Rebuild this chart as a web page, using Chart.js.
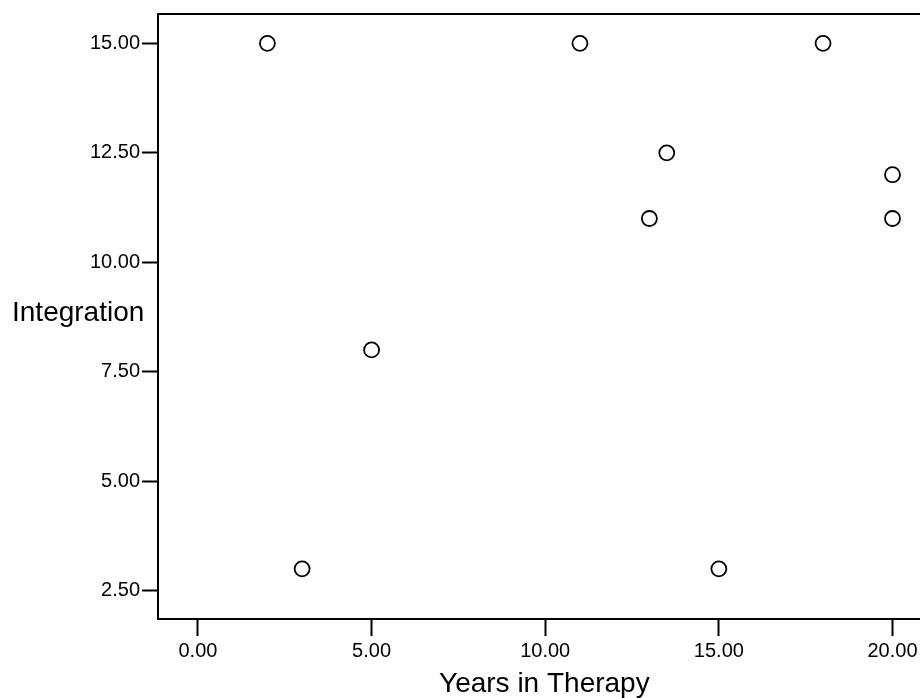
<!DOCTYPE html>
<html>
<head>
  <title>Integration vs Years in Therapy</title>
  <script src="https://cdn.jsdelivr.net/npm/chart.js@4.4.1/dist/chart.umd.min.js"></script>
  <style>
    html, body { margin: 0; padding: 0; background: #fff; overflow: hidden; }
    #wrap { width: 920px; height: 698px; overflow: hidden; }
  </style>
</head>
<body>
  <div id="wrap">
    <canvas id="scatterChart" width="940" height="698"></canvas>
  </div>

  <script>
    // values
    const yearsInTherapy = [2, 11, 18, 13.5, 13, 20, 20, 5, 3, 15];
    const integration = [15, 15, 15, 12.5, 11, 12, 11, 8, 3, 3];
    const xTicks = [0, 5, 10, 15, 20];
    const yTicks = [2.5, 5, 7.5, 10, 12.5, 15];

    const points = yearsInTherapy.map((x, i) => ({ x: x, y: integration[i] }));

    // top frame line + horizontal y title
    const frame = {
      id: 'frame',
      afterDraw(chart) {
        const ctx = chart.ctx;
        const area = chart.chartArea;
        ctx.save();
        ctx.strokeStyle = '#000';
        ctx.lineWidth = 2;
        ctx.beginPath();
        ctx.moveTo(area.left - 1, area.top);
        ctx.lineTo(chart.width, area.top);
        ctx.stroke();
        ctx.fillStyle = '#000';
        ctx.font = '28px "Liberation Sans", Arial, sans-serif';
        ctx.textBaseline = 'middle';
        ctx.textAlign = 'left';
        ctx.fillText('Integration', 12, (area.top + area.bottom) / 2 - 3);
        ctx.restore();
      }
    };

    const tickFont = { family: '"Liberation Sans", Arial, sans-serif', size: 20 };

    new Chart(document.getElementById('scatterChart'), {
      type: 'scatter',
      data: {
        datasets: [{
          data: points,
          pointStyle: 'circle',
          pointRadius: 7.5,
          pointHoverRadius: 7.5,
          borderWidth: 1.8,
          borderColor: '#000',
          backgroundColor: '#fff'
        }]
      },
      options: {
        responsive: false,
        animation: false,
        devicePixelRatio: 1,
        layout: { padding: { top: 13, left: 0, right: 0, bottom: 0 } },
        plugins: {
          legend: { display: false },
          tooltip: { enabled: false }
        },
        scales: {
          x: {
            type: 'linear',
            min: -1.15,
            max: 21.1,
            afterFit: s => { s.height = 79; },
            afterBuildTicks: s => { s.ticks = xTicks.map(v => ({ value: v })); },
            ticks: {
              color: '#000',
              font: tickFont,
              padding: 3,
              maxRotation: 0,
              callback: v => Number(v).toFixed(2)
            },
            grid: { drawOnChartArea: false, drawTicks: true, tickLength: 17, tickWidth: 2, color: '#000' },
            border: { display: true, color: '#000', width: 2 },
            title: {
              display: true,
              text: 'Years in Therapy',
              color: '#000',
              font: { family: '"Liberation Sans", Arial, sans-serif', size: 28 },
              padding: { top: 0, bottom: -3 }
            }
          },
          y: {
            type: 'linear',
            min: 1.855,
            max: 15.67,
            afterFit: s => { s.width = 158; },
            afterBuildTicks: s => { s.ticks = yTicks.map(v => ({ value: v })); },
            ticks: {
              color: '#000',
              font: tickFont,
              padding: 2,
              callback: v => Number(v).toFixed(2)
            },
            grid: { drawOnChartArea: false, drawTicks: true, tickLength: 16, tickWidth: 2, color: '#000' },
            border: { display: true, color: '#000', width: 2 }
          }
        }
      },
      plugins: [frame]
    });
  </script>
</body>
</html>
